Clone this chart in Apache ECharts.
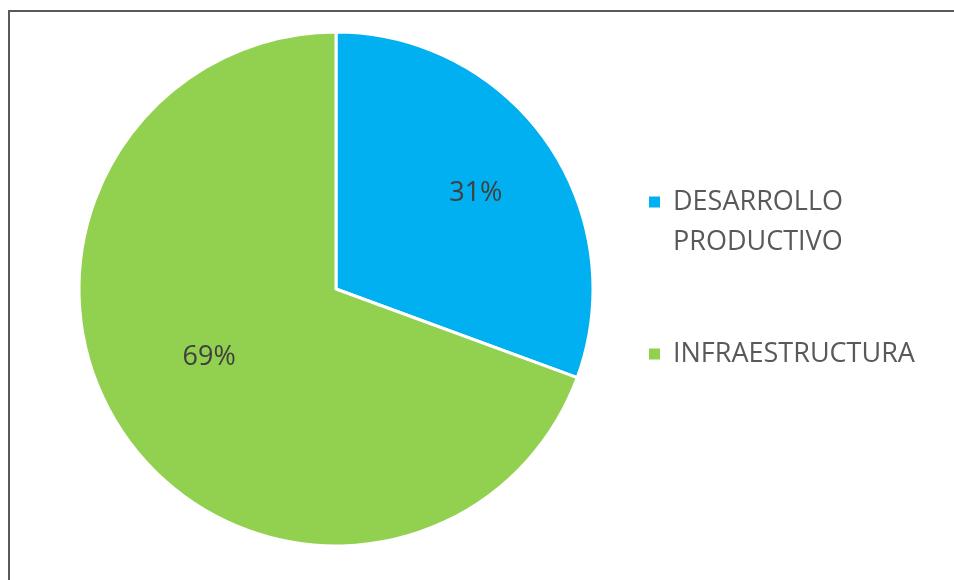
<!DOCTYPE html>
<html>
<head>
<meta charset="utf-8">
<script src="https://cdn.jsdelivr.net/npm/echarts@6/dist/echarts.min.js"></script>
<style>
html,body{margin:0;padding:0;background:#fff;}
#c{width:954px;height:580px;}
</style>
</head>
<body>
<div id="c"></div>
<script>
const categories = ['DESARROLLO PRODUCTIVO', 'INFRAESTRUCTURA'];
const values = [30.6, 69.4];
const colors = ['#00B0F0', '#92D050'];

const chart = echarts.init(document.getElementById('c'), null, {renderer: 'canvas'});
const FONT = 'Open Sans';

const labelShift = [[32, -20], [-19, -7]];

const legendText = {fontFamily: FONT, fontSize: 27, color: '#595959', lineHeight: 40};

chart.setOption({
  animation: false,
  backgroundColor: '#fff',
  graphic: [{
    type: 'rect',
    shape: {x: 9, y: 11, width: 960, height: 600},
    style: {fill: 'none', stroke: '#595959', lineWidth: 2},
    silent: true, z: -10
  }],
  legend: [{
    orient: 'vertical', left: 647, top: 142, padding: 0,
    data: [categories[0]],
    icon: 'rect', itemWidth: 13, itemHeight: 13,
    formatter: n => '{e| }\n{a|' + n.replace(' ', '}\n{a|') + '}',
    textStyle: {
      fontFamily: FONT, fontSize: 27, color: '#595959', lineHeight: 40,
      rich: {
        e: {fontFamily: FONT, fontSize: 27, lineHeight: 40, height: 40, padding: [0, 0, 0, 7]},
        a: Object.assign({padding: [0, 0, 0, 7]}, legendText)
      }
    }
  }, {
    orient: 'vertical', left: 647, top: 334, padding: 0,
    data: [categories[1]],
    icon: 'rect', itemWidth: 13, itemHeight: 13,
    textStyle: Object.assign({padding: [0, 0, 0, 7]}, legendText)
  }],
  series: [{
    type: 'pie',
    center: [336, 289],
    radius: [0, 257],
    startAngle: 90,
    clockwise: true,
    avoidLabelOverlap: false,
    itemStyle: {borderColor: '#fff', borderWidth: 3},
    label: {
      show: true, position: 'inside',
      formatter: p => Math.round(p.percent) + '%',
      fontFamily: FONT, fontSize: 27, color: '#404040'
    },
    labelLayout: p => ({dx: labelShift[p.dataIndex][0], dy: labelShift[p.dataIndex][1]}),
    emphasis: {disabled: true},
    data: categories.map((n, i) => ({name: n, value: values[i], itemStyle: {color: colors[i]}}))
  }]
});
</script>
</body>
</html>
